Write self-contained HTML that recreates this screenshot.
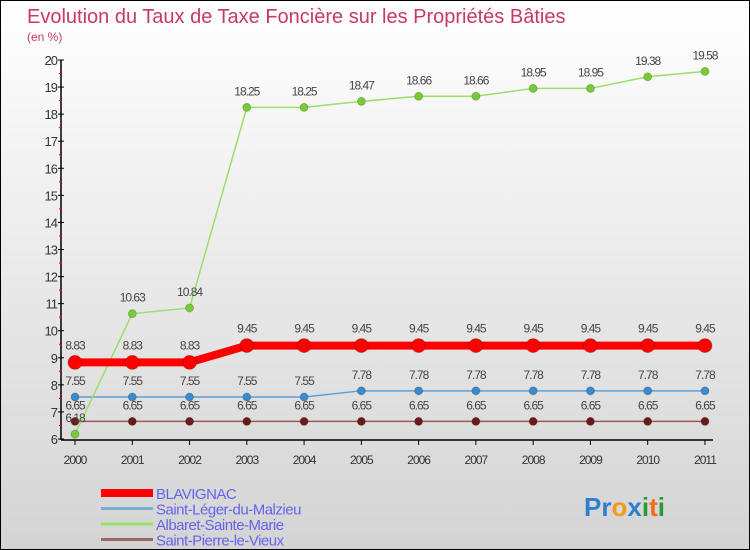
<!DOCTYPE html>
<html><head><meta charset="utf-8"><style>
body{margin:0}
#c{width:750px;height:550px;position:relative;box-sizing:border-box;border:1px solid #000;background:linear-gradient(#ffffff,#d4d4d4);font-family:"Liberation Sans",sans-serif;overflow:hidden}
</style></head><body>
<div id="c">
<svg id="s" width="748" height="548" xmlns="http://www.w3.org/2000/svg"></svg>
</div>
<script>
const years=["2000","2001","2002","2003","2004","2005","2006","2007","2008","2009","2010","2011"];
const blavignac=[8.83,8.83,8.83,9.45,9.45,9.45,9.45,9.45,9.45,9.45,9.45,9.45];
const saintLeger=[7.55,7.55,7.55,7.55,7.55,7.78,7.78,7.78,7.78,7.78,7.78,7.78];
const albaret=[6.18,10.63,10.84,18.25,18.25,18.47,18.66,18.66,18.95,18.95,19.38,19.58];
const saintPierre=[6.65,6.65,6.65,6.65,6.65,6.65,6.65,6.65,6.65,6.65,6.65,6.65];
const yTicks=[6,7,8,9,10,11,12,13,14,15,16,17,18,19,20];
const seriesNames=["BLAVIGNAC","Saint-Léger-du-Malzieu","Albaret-Sainte-Marie","Saint-Pierre-le-Vieux"];

const s=document.getElementById('s');const NS="http://www.w3.org/2000/svg";
function el(t,a,p){const e=document.createElementNS(NS,t);for(const k in a)e.setAttribute(k,a[k]);(p||s).appendChild(e);return e;}
const x0=74,dx=57.27,yb=438,yt=59,ymin=6,ymax=20;
const X=i=>x0+i*dx;const Y=v=>yb-(v-ymin)*(yb-yt)/(ymax-ymin);

let t=el('text',{x:26,y:22,'font-size':20,fill:'#c8386a'});t.textContent="Evolution du Taux de Taxe Foncière sur les Propriétés Bâties";

t=el('text',{x:26,y:40,'font-size':12,fill:'#c8386a'});t.textContent="(en %)";


let ax=el('line',{x1:60,y1:yt,x2:60,y2:yb+1,stroke:'#000','stroke-width':1.5});

ax=el('line',{x1:60,y1:yb+1,x2:X(11)+8,y2:yb+1,stroke:'#000','stroke-width':1.5});

yTicks.forEach(v=>{
 el('line',{x1:57,y1:Y(v),x2:63,y2:Y(v),stroke:'#000'});
 if(v<20) el('line',{x1:58,y1:Y(v+0.5),x2:61,y2:Y(v+0.5),stroke:'#e00'});
 const tt=el('text',{x:56,y:Y(v)+5,'font-size':13,fill:'#333','text-anchor':'end','letter-spacing':'-1'});tt.textContent=v;
 
});
years.forEach((y,i)=>{
 el('line',{x1:X(i),y1:yb+1,x2:X(i),y2:yb+6,stroke:'#000'});
 const tt=el('text',{x:X(i),y:yb+25,'font-size':12,fill:'#333','text-anchor':'middle','letter-spacing':'-1'});tt.textContent=y;
 
});
function series(data,color,dot,w,r,name,labOff){
 const g=el('g',{});
 el('polyline',{points:data.map((v,i)=>X(i)+','+Y(v)).join(' '),fill:'none',stroke:color,'stroke-width':w},g);
 data.forEach((v,i)=>{
  const c=el('circle',{cx:X(i),cy:Y(v),r:r,fill:dot,stroke:'rgba(0,0,0,0.2)'},g);
  
  const l=el('text',{x:X(i),y:Y(v)+labOff,'font-size':12,fill:'#444','text-anchor':'middle','letter-spacing':'-1'},g);l.textContent=v.toFixed(2).replace(/0$/,'').replace(/\.0$/,'');
  
 });
}
series(saintPierre,'#9a5a5a','#6b1a1a',1.5,4,'series-saint-pierre',-12);
series(saintLeger,'#5aa0d8','#3a8ad0',1.5,4,'series-saint-leger',-12);
series(albaret,'#99e066','#77cc33',1.5,4,'series-albaret',-12);
series(blavignac,'#f00','#f00',8,7,'series-blavignac',-13);

const lc=['#f00','#7aaed8','#99e066','#9a6a6a'],lw=[8,3,3,3];
seriesNames.forEach((n,i)=>{
 const y=492+i*15.5;
 const l=el('line',{x1:100,y1:y,x2:152,y2:y,stroke:lc[i],'stroke-width':lw[i]});
 
 const tt=el('text',{x:155,y:y+6,'font-size':15,fill:'#6464ee','letter-spacing':'-0.5'});tt.textContent=n;
 
});
const logo=el('text',{x:583,y:515,'font-size':26,'font-weight':'bold'});

[['P','#2f7fd0'],['r','#2f7fd0'],['o','#f39a1a'],['x','#2f7fd0'],['i','#2a9a3a'],['t','#f36a1a'],['i','#2a9a3a']].forEach(([c,f])=>{const sp=el('tspan',{fill:f},logo);sp.textContent=c;});
</script>
</body></html>
